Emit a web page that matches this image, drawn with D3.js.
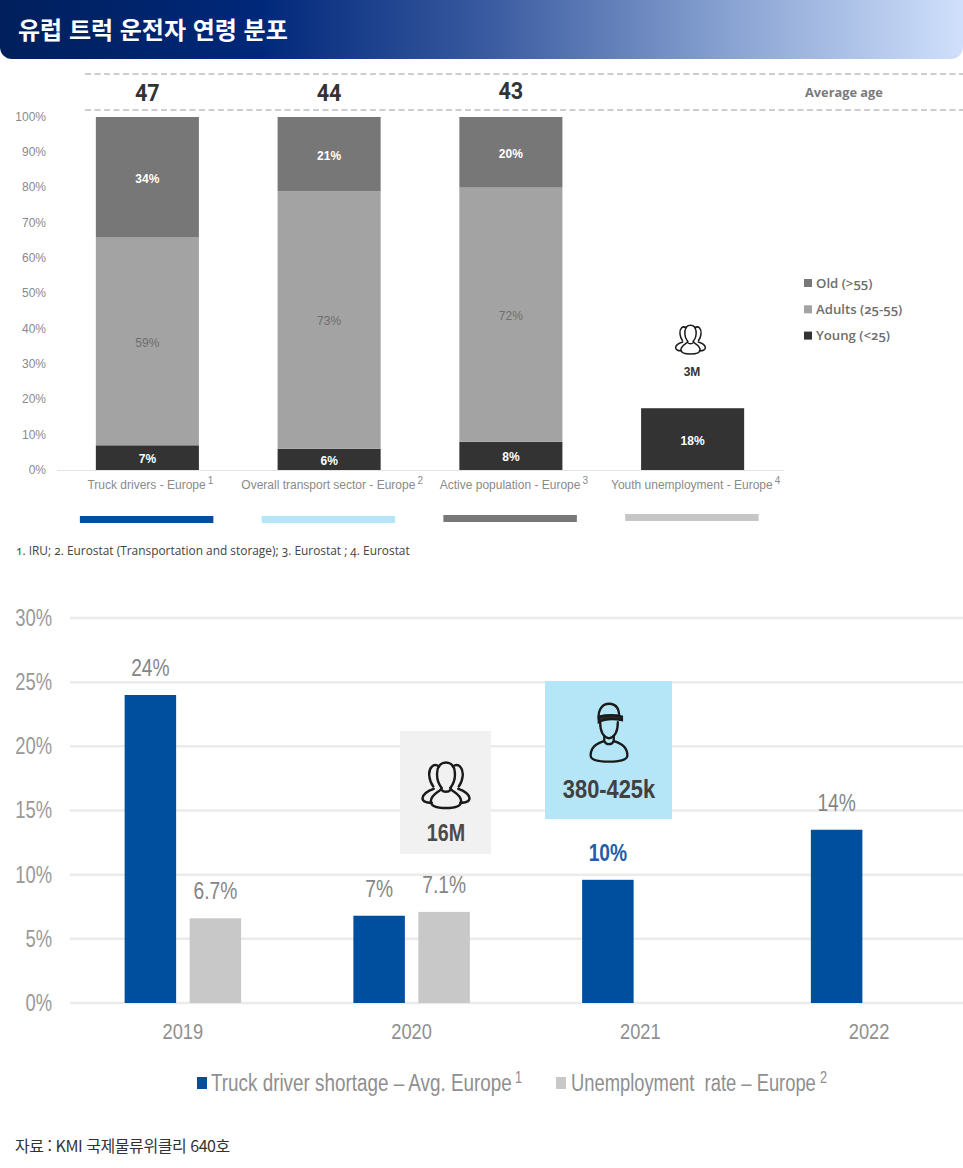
<!DOCTYPE html>
<html lang="ko"><head><meta charset="utf-8">
<script src="https://cdn.jsdelivr.net/npm/d3@7"></script>
<style>html,body{margin:0;padding:0;background:#fff}svg{display:block}</style></head>
<body><svg id="c" width="963" height="1168" xmlns="http://www.w3.org/2000/svg"></svg>
<script>
const titleText = "유럽 트럭 운전자 연령 분포";
const ageCategories = ["Truck drivers - Europe", "Overall transport sector - Europe", "Active population - Europe", "Youth unemployment - Europe"];
const ageNotes = ["1", "2", "3", "4"];
const averageAges = ["47", "44", "43", ""];
const young = [7, 6, 8, 17.5];
const adults = [59, 73, 72, 0];
const old = [34, 21, 20, 0];
const stripColors = ["#004f9f", "#b5e6f8", "#787878", "#c6c6c6"];
const ageLegend = ["Old (>55)", "Adults (25-55)", "Young (<25)"];
const ageColors = ["#777777", "#a3a3a3", "#333333"];
const ageTicks = [0, 10, 20, 30, 40, 50, 60, 70, 80, 90, 100];
const footnote = "1. IRU; 2. Eurostat (Transportation and storage); 3. Eurostat ; 4. Eurostat";
const years = ["2019", "2020", "2021", "2022"];
const shortage = [24, 6.8, 9.6, 13.5];
const shortageLabels = ["24%", "7%", "10%", "14%"];
const unemployment = [6.6, 7.1, null, null];
const unemploymentLabels = ["6.7%", "7.1%", "", ""];
const shortTicks = [0, 5, 10, 15, 20, 25, 30];
const sourceText = "자료 : KMI 국제물류위클리 640호";

const svg = d3.select("#c");
const KR = "'Noto Sans CJK KR','Noto Sans',sans-serif";
const SANS = "'Liberation Sans',Arial,sans-serif";
const OPEN = "'Open Sans',sans-serif";
const squeeze = (sel, k) => sel.each(function () {
  const t = d3.select(this);
  t.attr("textLength", this.getComputedTextLength() * k).attr("lengthAdjust", "spacingAndGlyphs");
});

/* header */
const grad = svg.append("defs").append("linearGradient").attr("id", "hdr");
[[0, "#001f5c"], [.27, "#00287a"], [.5, "#38599f"], [.75, "#86a0d0"], [1, "#d0e0fc"]].forEach(s =>
  grad.append("stop").attr("offset", s[0]).attr("stop-color", s[1]));
svg.append("rect").attr("x", 0).attr("y", -14).attr("width", 963).attr("height", 73).attr("rx", 12).attr("fill", "url(#hdr)");
svg.append("text").attr("x", 18).attr("y", 39).text(titleText)
  .attr("font-family", KR).attr("font-weight", 700).attr("font-size", 24).attr("fill", "#fff");

/* age chart */
const x1 = d3.scaleBand().domain(ageCategories).range([56.5, 783.5]).paddingInner(.433).paddingOuter(.2165);
const y1 = d3.scaleLinear().domain([0, 100]).range([470, 117]);
const rows = ageCategories.map((c, i) => ({ c, young: young[i], adults: adults[i], old: old[i] }));
const stack = d3.stack().keys(["young", "adults", "old"])(rows);
const colorOf = { young: ageColors[2], adults: ageColors[1], old: ageColors[0] };

[74, 110].forEach(y => svg.append("line").attr("x1", 85).attr("x2", 963).attr("y1", y).attr("y2", y)
  .attr("stroke", "#9a9a9a").attr("stroke-width", 1).attr("stroke-dasharray", "6 3.5"));

const ax1 = svg.append("g").attr("transform", "translate(57,-0.5)")
  .call(d3.axisLeft(y1).tickValues(ageTicks).tickFormat(d => d + "%").tickSize(0).tickPadding(11));
ax1.select(".domain").remove();
ax1.selectAll("text").attr("font-family", SANS).attr("font-size", 12).attr("fill", "#8a8a8a");

stack.forEach(s => {
  const g = svg.append("g");
  g.selectAll("rect").data(s).join("rect")
    .attr("x", d => x1(d.data.c)).attr("width", x1.bandwidth())
    .attr("y", d => y1(d[1])).attr("height", d => y1(d[0]) - y1(d[1]))
    .attr("fill", colorOf[s.key]);
  g.selectAll("text").data(s.filter(d => d[1] > d[0])).join("text")
    .attr("x", d => x1(d.data.c) + x1.bandwidth() / 2)
    .attr("y", d => (y1(d[0]) + y1(d[1])) / 2 + 5.5)
    .attr("text-anchor", "middle").attr("font-family", SANS).attr("font-size", 12)
    .attr("font-weight", s.key === "adults" ? 400 : 700)
    .attr("fill", s.key === "adults" ? "#6e6e6e" : "#fff")
    .text(d => Math.round(d[1] - d[0]) + "%");
});
svg.append("line").attr("x1", 57).attr("x2", 784).attr("y1", 470.5).attr("y2", 470.5).attr("stroke", "#e4e4e4");

/* average ages */
svg.append("g").selectAll("text").data(averageAges).join("text")
  .attr("x", (d, i) => x1(ageCategories[i]) + x1.bandwidth() / 2)
  .attr("y", (d, i) => i === 2 ? 99 : 101)
  .attr("text-anchor", "middle").attr("font-family", "'Roboto',sans-serif").attr("font-weight", 700)
  .attr("font-size", 24).attr("fill", "#333").text(d => d)
  .filter(d => d).call(squeeze, .9);
svg.append("text").attr("x", 805).attr("y", 97).text("Average age")
  .attr("font-family", OPEN).attr("font-weight", 700).attr("font-size", 12.8).attr("fill", "#7a7a7a");

/* category labels with note marks */
const catG = svg.append("g").selectAll("g").data(ageCategories).join("g");
catG.append("text")
  .attr("x", d => x1(d) + x1.bandwidth() / 2 + 3)
  .attr("y", 489).attr("text-anchor", "middle").attr("font-family", SANS).attr("font-size", 12).attr("fill", "#8a8a8a")
  .each(function (d, i) {
    const t = d3.select(this);
    t.append("tspan").text(d);
    t.append("tspan").attr("dx", 2).attr("dy", -5).attr("font-size", 10).text(ageNotes[i]);
  });

/* colour strips */
svg.append("g").selectAll("rect").data(stripColors).join("rect")
  .attr("x", (d, i) => x1(ageCategories[i]) + x1.bandwidth() / 2 - 67.5)
  .attr("y", (d, i) => 516 - (i > 1 ? (i === 2 ? 1 : 2) : 0))
  .attr("width", 133.5).attr("height", 7).attr("fill", d => d);

/* age legend */
const lg1 = svg.append("g").selectAll("g").data(ageLegend).join("g")
  .attr("transform", (d, i) => `translate(804,${283 + i * 26.3})`);
lg1.append("rect").attr("y", -4).attr("width", 8).attr("height", 8).attr("fill", (d, i) => ageColors[i]);
lg1.append("text").attr("x", 12).attr("y", 4.5).text(d => d)
  .style("font-variant-numeric", "oldstyle-nums")
  .attr("font-family", OPEN).attr("font-weight", 600).attr("font-size", 13.2).attr("fill", "#6e6e6e");

/* icons */
function groupIcon(cx, cy, k, w) {
  const g = svg.append("g").attr("transform", `translate(${cx},${cy}) scale(${k})`)
    .attr("fill", "none").attr("stroke", "#1a1a1a").attr("stroke-width", w / k).attr("stroke-linecap", "round");
  g.append("path").attr("d", "M-14,-38C-26,-46 -36,-34 -34,-18C-33,-8 -30,-2 -26,3");
  g.append("path").attr("d", "M14,-38C26,-46 36,-34 34,-18C33,-8 30,-2 26,3");
  g.append("path").attr("d", "M-25,8C-38,12 -48,20 -48,27C-48,34 -38,37 -29,36");
  g.append("path").attr("d", "M25,8C38,12 48,20 48,27C48,34 38,37 29,36");
  g.append("path").attr("d", "M-9,6C-17,-4 -19,-16 -18,-26C-17,-40 -9,-46 0,-46C9,-46 17,-40 18,-26C19,-16 17,-4 9,6");
  g.append("path").attr("d", "M-9,6C-9,13 -30,17 -31,33C-31,44 -14,47 0,47C14,47 31,44 31,33C30,17 9,13 9,6");
  g.append("path").attr("d", "M-9,10C-5,15 5,15 9,10");
}
function driverIcon(cx, cy, k, w) {
  const g = svg.append("g").attr("transform", `translate(${cx},${cy}) scale(${k})`)
    .attr("fill", "none").attr("stroke", "#1a1a1a").attr("stroke-width", w / k).attr("stroke-linecap", "round");
  g.append("path").attr("d", "M-13,-16C-13,-4 -9,6 0,8C9,6 13,-4 13,-16");
  g.append("path").attr("d", "M-15,-20C-17,-36 -8,-43 0,-43C10,-43 15,-36 15,-24");
  g.append("path").attr("d", "M-15,-16C-6,-21 8,-21 19,-19L19,-24C8,-27 -6,-26 -15,-24Z").attr("fill", "#2a2a2a");
  g.append("path").attr("d", "M-7,5L-7,12C-18,15 -27,20 -27,33C-27,40 -14,42 0,42C14,42 27,40 27,33C27,20 18,15 7,12L7,5");
  g.append("path").attr("d", "M-7,12C-4,18 4,18 7,12");
}
groupIcon(690.5, 339.5, .31, 1.5);
svg.append("text").attr("x", 692).attr("y", 376).attr("text-anchor", "middle").text("3M")
  .attr("font-family", SANS).attr("font-weight", 700).attr("font-size", 12).attr("fill", "#333");

/* footnote */
svg.append("text").attr("x", 16).attr("y", 555).text(footnote)
  .style("font-variant-numeric", "oldstyle-nums")
  .attr("font-family", OPEN).attr("font-size", 11.9).attr("fill", "#444");

/* shortage chart */
const x2 = d3.scaleBand().domain(years).range([68.5, 983.5]);
const y2 = d3.scaleLinear().domain([0, 30]).range([1003, 618]);
const barW = 51.5, gap = 65;
const grid = svg.append("g");
grid.selectAll("line").data(shortTicks).join("line")
  .attr("x1", 70).attr("x2", 963).attr("y1", d => y2(d)).attr("y2", d => y2(d))
  .attr("stroke", "#ebebeb").attr("stroke-width", 2.5);
const ax2 = svg.append("g").attr("transform", "translate(70,0)")
  .call(d3.axisLeft(y2).tickValues(shortTicks).tickFormat(d => d + "%").tickSize(0).tickPadding(18));
ax2.select(".domain").remove();
ax2.selectAll("text").attr("font-family", SANS).attr("font-size", 23).attr("fill", "#999").call(squeeze, .8);
const ax2x = svg.append("g").attr("transform", "translate(0,1003)")
  .call(d3.axisBottom(x2).tickSize(0).tickPadding(20));
ax2x.select(".domain").remove();
ax2x.selectAll("text").attr("font-family", SANS).attr("font-size", 22).attr("fill", "#8f8f8f").call(squeeze, .83);

const cx2 = y => x2(y) + x2.bandwidth() / 2;
svg.append("g").selectAll("rect").data(years).join("rect")
  .attr("x", d => cx2(d) - gap / 2 - barW / 2).attr("width", barW)
  .attr("y", (d, i) => y2(shortage[i])).attr("height", (d, i) => y2(0) - y2(shortage[i])).attr("fill", "#004f9f");
svg.append("g").selectAll("rect").data(years.filter((d, i) => unemployment[i] !== null)).join("rect")
  .attr("x", d => cx2(d) + gap / 2 - barW / 2).attr("width", barW)
  .attr("y", (d, i) => y2(unemployment[i])).attr("height", (d, i) => y2(0) - y2(unemployment[i])).attr("fill", "#c8c8c8");
svg.append("g").selectAll("text").data(years).join("text")
  .attr("x", d => cx2(d) - gap / 2).attr("y", (d, i) => y2(shortage[i]) - 19)
  .attr("text-anchor", "middle").attr("font-family", SANS).attr("font-size", 24)
  .attr("font-weight", (d, i) => i === 2 ? 700 : 400).attr("fill", (d, i) => i === 2 ? "#1f5fa8" : "#858585")
  .text((d, i) => shortageLabels[i]).call(squeeze, .8);
svg.append("g").selectAll("text").data(years.filter((d, i) => unemployment[i] !== null)).join("text")
  .attr("x", d => cx2(d) + gap / 2).attr("y", (d, i) => y2(unemployment[i]) - 19)
  .attr("text-anchor", "middle").attr("font-family", SANS).attr("font-size", 24).attr("fill", "#858585")
  .text((d, i) => unemploymentLabels[i]).call(squeeze, .8);

/* call-out boxes */
svg.append("rect").attr("x", 400).attr("y", 731).attr("width", 91).attr("height", 123).attr("fill", "#f1f1f1");
svg.append("rect").attr("x", 545).attr("y", 681).attr("width", 127).attr("height", 138).attr("fill", "#b5e6f8");
groupIcon(446, 785, .49, 2.4);
driverIcon(609, 733, .68, 2.3);
svg.append("text").attr("x", 446).attr("y", 841).attr("text-anchor", "middle").text("16M")
  .attr("font-family", SANS).attr("font-weight", 700).attr("font-size", 24).attr("fill", "#4a4a4a").call(squeeze, .82);
svg.append("text").attr("x", 609).attr("y", 798).attr("text-anchor", "middle").text("380-425k")
  .attr("font-family", SANS).attr("font-weight", 700).attr("font-size", 26).attr("fill", "#404040").call(squeeze, .84);

/* shortage legend */
const legendRow = [
  { label: "Truck driver shortage – Avg. Europe", note: "1", color: "#004f9f", sx: 197, tx: 211, width: 301, nx: 515 },
  { label: "Unemployment  rate – Europe", note: "2", color: "#c8c8c8", sx: 556, tx: 571, width: 245, nx: 820 }
];
legendRow.forEach(d => {
  svg.append("rect").attr("x", d.sx).attr("y", 1077).attr("width", 10).attr("height", 12).attr("fill", d.color);
  svg.append("text").attr("y", 0).text(d.label).attr("xml:space", "preserve")
    .attr("font-family", SANS).attr("font-size", 23).attr("fill", "#8f8f8f")
    .each(function () {
      d3.select(this).attr("transform", `translate(${d.tx},1091) scale(${d.width / this.getComputedTextLength()},1)`);
    });
  svg.append("text").text(d.note)
    .attr("font-family", SANS).attr("font-size", 17).attr("fill", "#8f8f8f")
    .attr("transform", `translate(${d.nx},1083) scale(.75,1)`);
});

/* source */
svg.append("text").attr("x", 15).attr("y", 1152).text(sourceText)
  .attr("font-family", KR).attr("font-size", 16).attr("letter-spacing", "-0.45").attr("fill", "#333");
</script></body></html>
